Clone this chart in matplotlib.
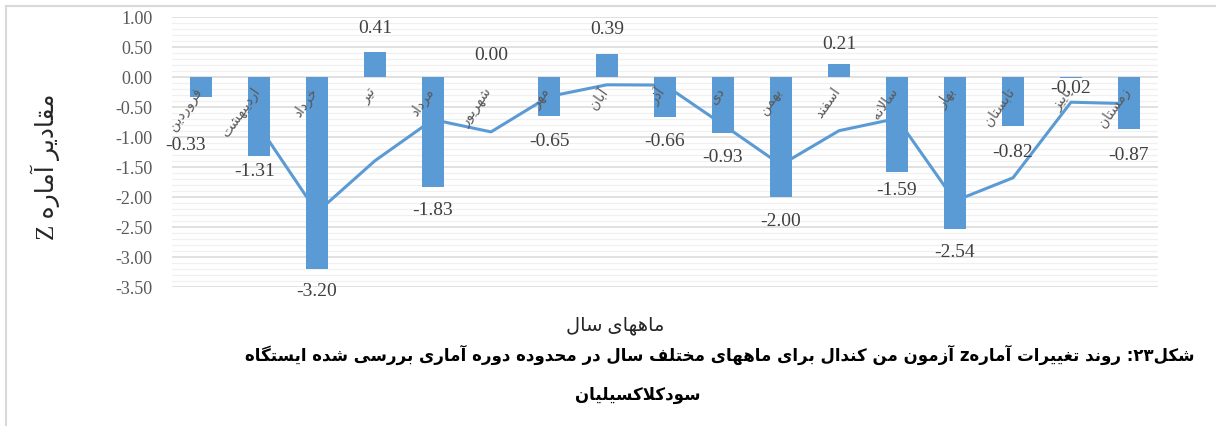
import re
import numpy as np
import matplotlib
matplotlib.use("Agg")
import matplotlib.pyplot as plt
from matplotlib.ticker import MultipleLocator, FormatStrFormatter
from matplotlib.lines import Line2D

# data
months = ["فروردین", "اردیبهشت", "خرداد", "تیر", "مرداد", "شهریور", "مهر", "آبان", "آذر",
          "دی", "بهمن", "اسفند", "سالانه", "بهار", "تابستان", "پاییز", "زمستان"]
z_values = [-0.33, -1.31, -3.20, 0.41, -1.83, 0.00, -0.65, 0.39, -0.66,
            -0.93, -2.00, 0.21, -1.59, -2.54, -0.82, -0.02, -0.87]
# 2-period moving average trend line
trend = [np.nan, -0.82, -2.255, -1.395, -0.71, -0.915, -0.325, -0.13, -0.135,
         -0.795, -1.465, -0.895, -0.69, -2.065, -1.68, -0.42, -0.445]
# label nudges in pixels (dx, dy) where Excel moved them
label_dx = [-15, -4, 0, 0, 0, 0, 0, 0, 0, 0, 0, 0, 0, 0, 0, 0, 0]
label_dy = [49, 16, 23, -24, 24, -22, 26, -24, 25, 25, 24, -20, 18, 23, 26, 10, 26]

y_title = "مقادیر آماره Z"
x_title = "ماههای سال"
caption1 = "شکل۲۳: روند تغییرات آمارهz آزمون من کندال برای ماههای مختلف سال در محدوده دوره آماری بررسی شده ایستگاه"
caption2 = "سودکلاکسیلیان"

# --- tiny persian shaper (matplotlib does no arabic shaping) ---
FORMS = {
    'آ': (0xFE81, 0xFE82, None, None), 'ا': (0xFE8D, 0xFE8E, None, None),
    'ب': (0xFE8F, 0xFE90, 0xFE91, 0xFE92), 'پ': (0xFB56, 0xFB57, 0xFB58, 0xFB59),
    'ت': (0xFE95, 0xFE96, 0xFE97, 0xFE98), 'ث': (0xFE99, 0xFE9A, 0xFE9B, 0xFE9C),
    'ج': (0xFE9D, 0xFE9E, 0xFE9F, 0xFEA0), 'چ': (0xFB7A, 0xFB7B, 0xFB7C, 0xFB7D),
    'ح': (0xFEA1, 0xFEA2, 0xFEA3, 0xFEA4), 'خ': (0xFEA5, 0xFEA6, 0xFEA7, 0xFEA8),
    'د': (0xFEA9, 0xFEAA, None, None), 'ذ': (0xFEAB, 0xFEAC, None, None),
    'ر': (0xFEAD, 0xFEAE, None, None), 'ز': (0xFEAF, 0xFEB0, None, None),
    'ژ': (0xFB8A, 0xFB8B, None, None),
    'س': (0xFEB1, 0xFEB2, 0xFEB3, 0xFEB4), 'ش': (0xFEB5, 0xFEB6, 0xFEB7, 0xFEB8),
    'ص': (0xFEB9, 0xFEBA, 0xFEBB, 0xFEBC), 'ض': (0xFEBD, 0xFEBE, 0xFEBF, 0xFEC0),
    'ط': (0xFEC1, 0xFEC2, 0xFEC3, 0xFEC4), 'ظ': (0xFEC5, 0xFEC6, 0xFEC7, 0xFEC8),
    'ع': (0xFEC9, 0xFECA, 0xFECB, 0xFECC), 'غ': (0xFECD, 0xFECE, 0xFECF, 0xFED0),
    'ف': (0xFED1, 0xFED2, 0xFED3, 0xFED4), 'ق': (0xFED5, 0xFED6, 0xFED7, 0xFED8),
    'ک': (0xFB8E, 0xFB8F, 0xFB90, 0xFB91), 'گ': (0xFB92, 0xFB93, 0xFB94, 0xFB95),
    'ل': (0xFEDD, 0xFEDE, 0xFEDF, 0xFEE0), 'م': (0xFEE1, 0xFEE2, 0xFEE3, 0xFEE4),
    'ن': (0xFEE5, 0xFEE6, 0xFEE7, 0xFEE8), 'ه': (0xFEE9, 0xFEEA, 0xFEEB, 0xFEEC),
    'و': (0xFEED, 0xFEEE, None, None), 'ی': (0xFBFC, 0xFBFD, 0xFBFE, 0xFBFF),
}
LAM_ALEF = {'ا': (0xFEFB, 0xFEFC), 'آ': (0xFEF5, 0xFEF6)}


def joins_next(c):
    return c in FORMS and FORMS[c][2] is not None


def shape(s):
    out = []
    i = 0
    while i < len(s):
        c = s[i]
        if c not in FORMS:
            out.append(c)
            i += 1
            continue
        prev = s[i - 1] if i > 0 else ''
        nxt = s[i + 1] if i + 1 < len(s) else ''
        cp = joins_next(prev)
        if c == 'ل' and nxt in LAM_ALEF:
            out.append(chr(LAM_ALEF[nxt][1 if cp else 0]))
            i += 2
            continue
        cn = joins_next(c) and nxt in FORMS
        iso, fin, ini, med = FORMS[c]
        if cp and cn:
            out.append(chr(med))
        elif cp:
            out.append(chr(fin))
        elif cn:
            out.append(chr(ini))
        else:
            out.append(chr(iso))
        i += 1
    return ''.join(out)


def fa(s):
    shaped = shape(s)
    runs = re.findall(r'[A-Za-z0-9۰-۹.]+|[^A-Za-z0-9۰-۹.]+', shaped)
    vis = []
    for r in reversed(runs):
        if re.match(r'[A-Za-z0-9۰-۹.]', r):
            vis.append(r)
        else:
            vis.append(r[::-1])
    return ''.join(vis)


serif = ['Liberation Serif', 'DejaVu Sans']
blue = '#5B9BD5'

fig = plt.figure(figsize=(12.16, 4.26), dpi=100)
ax = fig.add_axes([172 / 1216, 1 - 287 / 426, 986 / 1216, 270 / 426])

x = np.arange(len(months))
ax.bar(x, z_values, width=0.38, color=blue, zorder=3)
ax.plot(x, trend, color=blue, lw=2.2, zorder=4, solid_capstyle='butt')

for i, v in enumerate(z_values):
    ax.annotate(f"{v:.2f}", (x[i], v), xytext=(label_dx[i], -label_dy[i]),
                textcoords='offset pixels', ha='center', va='center',
                fontsize=14, family=serif, color='#404040', zorder=5)

for i, m in enumerate(months):
    ax.annotate(fa(m), (x[i], 0), xytext=(4, -8), textcoords='offset pixels',
                ha='right', va='top', rotation=55, fontsize=10,
                family=['DejaVu Sans'], color='#595959', zorder=5)

ax.set_xlim(-0.5, len(months) - 0.5)
ax.set_ylim(-3.5, 1.0)
ax.yaxis.set_major_locator(MultipleLocator(0.5))
ax.yaxis.set_minor_locator(MultipleLocator(0.1))
ax.yaxis.set_major_formatter(FormatStrFormatter('%.2f'))
ax.set_xticks([])
ax.grid(axis='y', which='minor', color='#F0F0F0', lw=0.9, zorder=0)
ax.grid(axis='y', which='major', color='#D9D9D9', lw=1.1, zorder=1)
ax.tick_params(axis='y', which='both', length=0, pad=14, labelsize=13, labelcolor='#595959')
for t in ax.get_yticklabels():
    t.set_family('Liberation Serif')
for sp in ax.spines.values():
    sp.set_visible(False)

fig.text(45 / 1216, 1 - 167 / 426, fa(y_title), rotation=90, ha='center', va='center',
         fontsize=18, family=serif, color='#262626')
fig.text(615 / 1216, 1 - 326 / 426, fa(x_title), ha='center', va='center',
         fontsize=14, family=serif, color='#262626')
fig.text(720 / 1216, 1 - 355 / 426, fa(caption1), ha='center', va='center',
         fontsize=12, family=['DejaVu Sans'], weight='bold', color='black')
fig.text(638 / 1216, 1 - 395 / 426, fa(caption2), ha='center', va='center',
         fontsize=12, family=['DejaVu Sans'], weight='bold', color='black')

# page border fragments (top and left)
fig.add_artist(Line2D([6 / 1216, 1], [1 - 6 / 426] * 2, color='#D9D9D9', lw=1.5))
fig.add_artist(Line2D([6 / 1216] * 2, [0, 1 - 6 / 426], color='#D9D9D9', lw=1.5))

fig.savefig("out.png", dpi=100)
